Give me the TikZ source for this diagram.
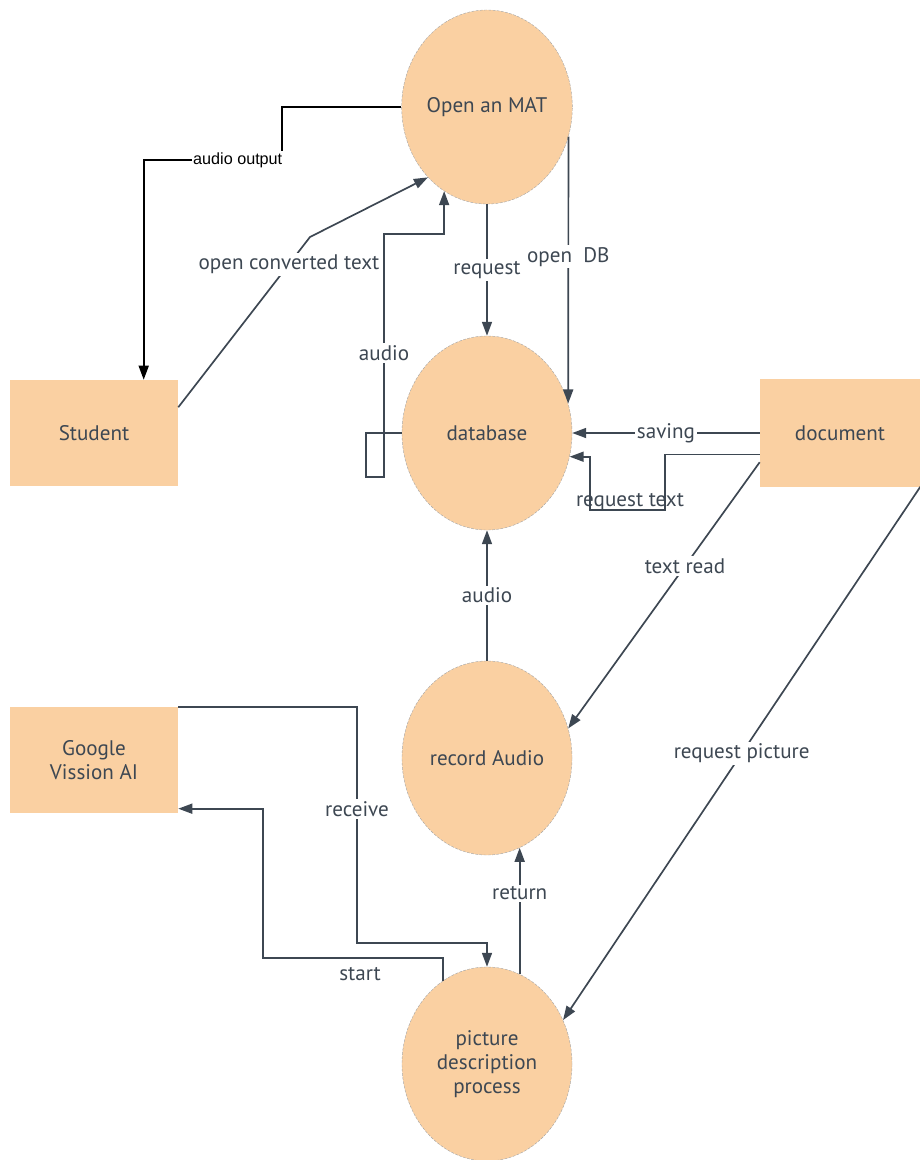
\documentclass[tikz,border=0pt]{standalone}
\usepackage{fontspec}
\setmainfont{PT Sans}
\newfontfamily\arialfont{Liberation Sans}
\usetikzlibrary{shapes.geometric,arrows.meta}
\definecolor{peach}{HTML}{FAD0A2}
\definecolor{slate}{HTML}{3D4752}

\begin{document}
\begin{tikzpicture}[x=0.025cm,y=-0.025cm,
    proc/.style={ellipse,fill=peach,draw=black!35,dash pattern=on 2pt off 1pt,line width=0.3pt,
        minimum width=4.25cm,minimum height=4.85cm,inner sep=0pt,align=center,
        text=slate,font=\fontsize{15}{17}\selectfont},
    ext/.style={rectangle,fill=peach,inner sep=0pt,align=center,
        text=slate,font=\fontsize{15}{17}\selectfont},
    flow/.style={draw=slate,line width=1.2pt,-{Triangle[length=0.35cm,width=0.25cm]}},
    lbl/.style={fill=white,text=slate,inner sep=1.5pt,font=\fontsize{15}{17}\selectfont}]

    \useasboundingbox (0,0) rectangle (920,1160);

    % processes
    \foreach \n/\y/\t in {mat/107/Open an MAT, db/433/database, rec/758/record Audio,
        pic/1064/{picture\\description\\process}}{
        \node[proc] (\n) at (487,\y) {\t};
    }

    % external entities
    \node[ext,minimum width=4.2cm,minimum height=2.65cm] (stu) at (94,433) {Student};
    \node[ext,minimum width=4.0cm,minimum height=2.675cm] (doc) at (840,433) {document};
    \node[ext,minimum width=4.2cm,minimum height=2.625cm] (ggl) at (94,760) {Google\\Vission AI};

    % flows
    \draw[flow,draw=black] (mat.west) -| (282,160) -| (stu.47) node[pos=0.16,fill=white,inner sep=1pt,
        text=black,font=\arialfont\fontsize{11.5}{13}\selectfont]{audio output};
    \draw[flow] (stu.17) -- node[lbl,pos=0.84]{open converted text} (310,237) -- (mat.230);
    \draw[flow] (mat.south) -- node[lbl]{request} (db.north);
    \draw[flow] (mat.-20) -- node[lbl,pos=0.45]{open\ \ DB} (db.20);
    \draw[flow] (db.west) -| (366,477) -| (384,234) node[lbl,pos=0.755]{audio} -| (mat.243);
    \draw[flow] (doc.west) -- node[lbl]{saving} (db.east);
    \draw[flow] (doc.195) -| (665,510) -- (590,510) |- (db.-16);
    \node[text=slate,font=\fontsize{15}{17}\selectfont] (reqtxt) at (630,502) {request text};
    \draw[flow] (doc.200) -- node[lbl,pos=0.39]{text read} (rec.20);
    \draw[flow] (doc.south east) -- node[lbl]{request picture} (pic.30);
    \draw[flow] (rec.north) -- node[lbl]{audio} (db.south);
    \draw[flow] (ggl.north east) -| (357,943) node[lbl,pos=0.716]{receive} -| (pic.north);
    \draw[flow] (pic.118) |- (263,958) |- (ggl.-30);
    \node[text=slate,font=\fontsize{15}{17}\selectfont] (starttxt) at (360,974) {start};
    \draw[flow] (pic.70) -- node[lbl,pos=0.64]{return} (rec.-70);

\end{tikzpicture}
\end{document}
